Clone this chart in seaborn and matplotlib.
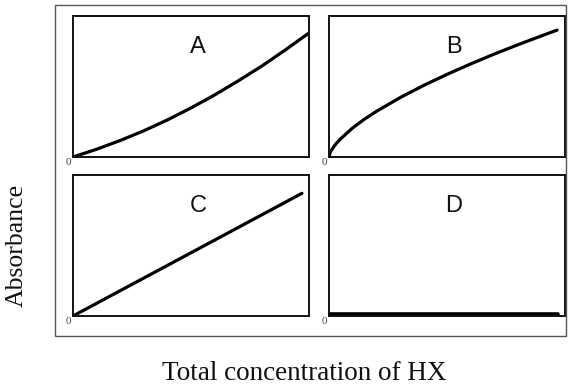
import matplotlib
matplotlib.use("Agg")
import matplotlib.pyplot as plt
import seaborn as sns
import pandas as pd
from matplotlib.patches import Rectangle

# schematic curves (x and absorbance as fraction of panel)
conc_a = [0.0, 0.1, 0.2, 0.3, 0.4, 0.5, 0.6, 0.7, 0.8, 0.9, 1.0]
abs_a = [0.0, 0.055, 0.117, 0.186, 0.263, 0.348, 0.44, 0.54, 0.645, 0.76, 0.88]

conc_b = [0.0, 0.005, 0.015, 0.03, 0.05, 0.1, 0.15, 0.2, 0.3, 0.4, 0.5, 0.6, 0.7, 0.8, 0.9, 0.966]
abs_b = [0.0, 0.035, 0.06, 0.095, 0.13, 0.206, 0.268, 0.323, 0.42, 0.507, 0.586, 0.66, 0.73, 0.796, 0.859, 0.90]

conc_c = [0.0, 0.97]
abs_c = [0.0, 0.87]

conc_d = [0.0, 0.97]
abs_d = [0.012, 0.012]

panel_names = ["A", "B", "C", "D"]

sns.set_theme(style="white")
plt.rcParams['font.family'] = ['Liberation Serif', 'DejaVu Serif']

fig = plt.figure(figsize=(5.69, 3.87), dpi=100)

# outer frame
fig.patches.append(Rectangle((0.0967, 0.1318), 0.898, 0.8553, transform=fig.transFigure,
                             fill=False, edgecolor="#555555", linewidth=1.0))

positions = {
    "A": [0.1283, 0.5943, 0.4148, 0.3643],
    "B": [0.5782, 0.5943, 0.4148, 0.3643],
    "C": [0.1283, 0.1835, 0.4148, 0.3643],
    "D": [0.5782, 0.1835, 0.4148, 0.3643],
}
curves = {
    "A": (conc_a, abs_a),
    "B": (conc_b, abs_b),
    "C": (conc_c, abs_c),
    "D": (conc_d, abs_d),
}

for name in panel_names:
    ax = fig.add_axes(positions[name])
    x, y = curves[name]
    df = pd.DataFrame({"conc": x, "absorbance": y})
    sns.lineplot(data=df, x="conc", y="absorbance", ax=ax, color="black",
                 linewidth=2.3 if name != "D" else 2.6)
    ax.set_xlim(0, 1)
    ax.set_ylim(0, 1)
    ax.set_xticks([])
    ax.set_yticks([])
    ax.set_xlabel("")
    ax.set_ylabel("")
    for s in ax.spines.values():
        s.set_visible(True)
        s.set_color("#111111")
        s.set_linewidth(1.4)
    ax.text(0.53, 0.78, name, transform=ax.transAxes, ha="center", va="center",
            fontsize=17, family=["Liberation Sans", "DejaVu Sans"], color="#111111")
    ax.text(-0.008, -0.01, "0", transform=ax.transAxes, ha="right", va="top",
            fontsize=8, color="#444444")

fig.text(0.03, 0.365, "Absorbance", rotation=90, ha="center", va="center",
         fontsize=18.5, color="#111111")
fig.text(0.535, 0.018, "Total concentration of HX", ha="center", va="baseline",
         fontsize=19.5, color="#111111")

fig.savefig("out.png", dpi=100)
